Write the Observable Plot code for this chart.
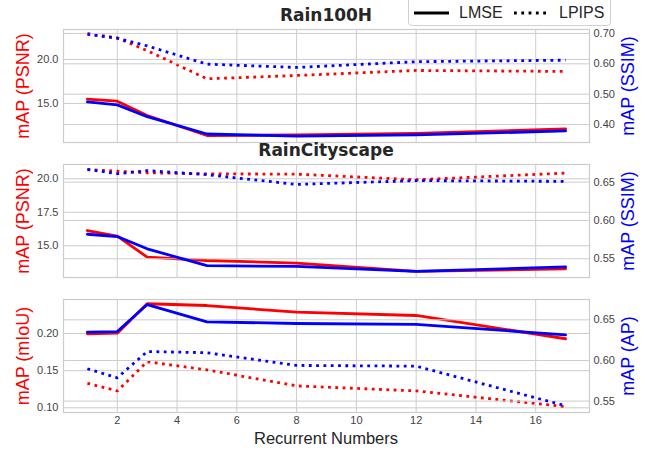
<!DOCTYPE html>
<html>
<head>
<meta charset="utf-8">
<script src="https://cdn.jsdelivr.net/npm/d3@7"></script>
<script src="https://cdn.jsdelivr.net/npm/@observablehq/plot@0.6"></script>
<style>
  html, body { margin: 0; padding: 0; background: #fff; }
  #fig { position: relative; width: 645px; height: 453px; overflow: hidden; background: #fff;
         font-family: "Liberation Sans", Arial, sans-serif; }
  #fig svg.panel { position: absolute; left: 0; }
  .title { position: absolute; font-family: "DejaVu Sans", sans-serif; font-weight: bold; font-size: 17px;
           color: #262626; white-space: nowrap; transform: translateX(-50%); line-height: 1; }
  .ylab { position: absolute; font-size: 18px; white-space: nowrap; line-height: 1;
          transform: translate(-50%, -50%) rotate(-90deg); }
  .xlab { position: absolute; font-size: 16.5px; color: #262626; white-space: nowrap; line-height: 1;
          transform: translateX(-50%); }
  #legend { position: absolute; left: 408px; top: -4px; width: 203px; height: 30px; box-sizing: border-box;
            border: 1px solid #d0d0d0; border-radius: 4px; background: rgba(255,255,255,0.9); }
  #legend .t { position: absolute; font-size: 16px; color: #262626; line-height: 1; top: 8px; }
</style>
</head>
<body>
<div id="fig"></div>
<script>
// ---------- data ----------
const recurrentNumbers = [1, 2, 3, 5, 8, 12, 17];
const xTicks = [2, 4, 6, 8, 10, 12, 14, 16];
const xDomain = [0.2, 17.8];

// Rain100H
const rain100hPsnrLmse  = [15.49, 15.26, 13.64, 11.36, 11.42, 11.59, 12.12];
const rain100hPsnrLpips = [22.95, 22.45, 21.0, 17.8, 18.18, 18.75, 18.64];
const rain100hSsimLmse  = [0.475, 0.465, 0.426, 0.369, 0.362, 0.366, 0.379];
const rain100hSsimLpips = [0.697, 0.684, 0.659, 0.599, 0.588, 0.607, 0.612];
const rain100hLeftTicks  = [15, 20];
const rain100hRightTicks = [0.4, 0.5, 0.6, 0.7];

// RainCityscape
const cityPsnrLmse  = [16.14, 15.72, 14.15, 13.9, 13.7, 13.08, 13.28];
const cityPsnrLpips = [20.69, 20.57, 20.45, 20.37, 20.35, 19.93, 20.43];
const citySsimLmse  = [0.582, 0.579, 0.563, 0.541, 0.540, 0.5335, 0.5395];
const citySsimLpips = [0.6666, 0.661, 0.665, 0.6597, 0.647, 0.652, 0.651];
const cityLeftTicks  = [15, 17.5, 20];
const cityRightTicks = [0.55, 0.60, 0.65];

// Segmentation / detection
const segMiouLmse  = [0.1996, 0.2004, 0.240, 0.2376, 0.2286, 0.2242, 0.1929];
const segMiouLpips = [0.133, 0.1227, 0.162, 0.151, 0.1295, 0.1227, 0.1016];
const segApLmse    = [0.6348, 0.6356, 0.6688, 0.6475, 0.6455, 0.6443, 0.6316];
const segApLpips   = [0.5898, 0.5787, 0.611, 0.6095, 0.5939, 0.593, 0.5443];
const segLeftTicks  = [0.10, 0.15, 0.20];
const segRightTicks = [0.55, 0.60, 0.65];

const panels = [
  { title: "Rain100H", top: 29, titleTop: 7,
    leftLabel: "mAP (PSNR)", rightLabel: "mAP (SSIM)",
    leftDomain: [10.57, 23.4], rightDomain: [0.341, 0.713],
    leftTicks: rain100hLeftTicks, rightTicks: rain100hRightTicks, leftFmt: ".1f", rightFmt: ".2f",
    leftLmse: rain100hPsnrLmse, leftLpips: rain100hPsnrLpips,
    rightLmse: rain100hSsimLmse, rightLpips: rain100hSsimLpips, showX: false },
  { title: "RainCityscape", top: 164, titleTop: 142,
    leftLabel: "mAP (PSNR)", rightLabel: "mAP (SSIM)",
    leftDomain: [12.63, 21.07], rightDomain: [0.5256, 0.673],
    leftTicks: cityLeftTicks, rightTicks: cityRightTicks, leftFmt: ".1f", rightFmt: ".2f",
    leftLmse: cityPsnrLmse, leftLpips: cityPsnrLpips,
    rightLmse: citySsimLmse, rightLpips: citySsimLpips, showX: false },
  { title: null, top: 299,
    leftLabel: "mAP (mIoU)", rightLabel: "mAP (AP)",
    leftDomain: [0.0937, 0.2457], rightDomain: [0.536, 0.675],
    leftTicks: segLeftTicks, rightTicks: segRightTicks, leftFmt: ".2f", rightFmt: ".2f",
    leftLmse: segMiouLmse, leftLpips: segMiouLpips,
    rightLmse: segApLmse, rightLpips: segApLpips, showX: true }
];

// ---------- drawing ----------
const W = 645, ML = 63, MR = 56, FRAME_H = 113, PAD = 6;
const RED = "#ff0000", BLUE = "#0000ff", GRID = "#cccccc";
const LW = 2.8, DASH = "2.8,4.5";
const fig = document.getElementById("fig");

function rows(ys) { return recurrentNumbers.map((x, i) => ({ x, y: ys[i] })); }

function panelPlot(p, side) {
  const isLeft = side === "left";
  const mb = p.showX ? 34 : PAD;
  const ticks = isLeft ? p.leftTicks : p.rightTicks;
  const color = isLeft ? RED : BLUE;
  const marks = [];
  if (isLeft) marks.push(Plot.gridX(xTicks, { stroke: GRID, strokeOpacity: 1, strokeWidth: 1 }));
  marks.push(Plot.gridY(ticks, { stroke: GRID, strokeOpacity: 1, strokeWidth: 1 }));
  if (isLeft) marks.push(Plot.frame({ stroke: GRID, strokeWidth: 1.2 }));
  marks.push(Plot.axisY(ticks, { anchor: side, tickSize: 0, tickPadding: isLeft ? 5 : 4,
    tickFormat: d3.format(isLeft ? p.leftFmt : p.rightFmt), label: null }));
  if (isLeft && p.showX) marks.push(Plot.axisX(xTicks, { anchor: "bottom", tickSize: 0, tickPadding: 4, label: null }));
  marks.push(Plot.line(rows(isLeft ? p.leftLmse : p.rightLmse),
    { x: "x", y: "y", stroke: color, strokeWidth: LW }));
  marks.push(Plot.line(rows(isLeft ? p.leftLpips : p.rightLpips),
    { x: "x", y: "y", stroke: color, strokeWidth: LW, strokeDasharray: DASH, strokeLinecap: "butt" }));
  const svg = Plot.plot({
    width: W, height: FRAME_H + PAD + mb,
    marginTop: PAD, marginBottom: mb, marginLeft: ML, marginRight: MR,
    x: { domain: xDomain, axis: null },
    y: { domain: isLeft ? p.leftDomain : p.rightDomain, axis: null },
    style: { background: "transparent", fontFamily: "'Liberation Sans', Arial, sans-serif",
             fontSize: "11px", color: "#444", overflow: "visible" },
    marks
  });
  svg.classList.add("panel");
  svg.style.top = (p.top - PAD) + "px";
  return svg;
}

for (const p of panels) {
  fig.appendChild(panelPlot(p, "left"));
  fig.appendChild(panelPlot(p, "right"));
  const cy = p.top + FRAME_H / 2;
  const l = document.createElement("div");
  l.className = "ylab"; l.textContent = p.leftLabel; l.style.color = RED;
  l.style.left = "23px"; l.style.top = cy + "px";
  fig.appendChild(l);
  const r = document.createElement("div");
  r.className = "ylab"; r.textContent = p.rightLabel; r.style.color = BLUE;
  r.style.left = "628px"; r.style.top = cy + "px";
  fig.appendChild(r);
  if (p.title) {
    const t = document.createElement("div");
    t.className = "title"; t.textContent = p.title;
    t.style.left = (ML + (W - ML - MR) / 2) + "px"; t.style.top = p.titleTop + "px";
    fig.appendChild(t);
  }
}

const xl = document.createElement("div");
xl.className = "xlab"; xl.textContent = "Recurrent Numbers";
xl.style.left = (ML + (W - ML - MR) / 2) + "px"; xl.style.top = "430px";
fig.appendChild(xl);

// legend
const leg = document.createElement("div");
leg.id = "legend";
leg.innerHTML = `
  <svg width="203" height="30" style="position:absolute;left:0;top:0">
    <line x1="5" x2="40" y1="16" y2="16" stroke="#000" stroke-width="2.8"/>
    <line x1="105" x2="140" y1="16" y2="16" stroke="#000" stroke-width="2.8" stroke-dasharray="2.8,4.5"/>
  </svg>
  <div class="t" style="left:50px">LMSE</div>
  <div class="t" style="left:150px">LPIPS</div>`;
fig.appendChild(leg);
</script>
</body>
</html>
